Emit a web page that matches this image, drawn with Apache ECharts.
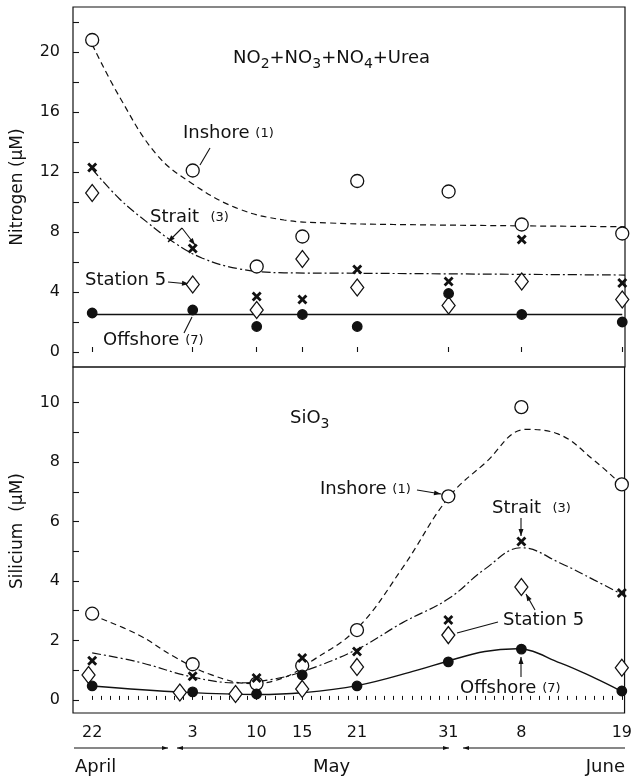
<!DOCTYPE html>
<html lang="en">
<head>
<meta charset="UTF-8">
<title>Nitrogen and silicium</title>
<script src="https://cdn.jsdelivr.net/npm/echarts@6/dist/echarts.min.js"></script>
<style>
  html, body { margin: 0; padding: 0; background: #fff; }
  #chart { width: 635px; height: 777px; }
</style>
</head>
<body>
<div id="chart"></div>
<script>
// sampling dates, day of year (22 April ... 19 June)
var sampleDays = [112, 123, 130, 135, 141, 151, 159, 170];
var dayLabels = ['22', '3', '10', '15', '21', '31', '8', '19'];

// nitrogen (uM), upper panel
var nInshore = [20.8, 12.1, 5.7, 7.7, 11.4, 10.7, 8.5, 7.9];
var nStrait = [12.3, 6.9, 3.7, 3.5, 5.5, 4.7, 7.5, 4.6];
var nStation5 = [10.6, 4.5, 2.8, 6.2, 4.3, 3.1, 4.7, 3.5];
var nOffshore = [2.6, 2.8, 1.7, 2.5, 1.7, 3.9, 2.5, 2.0];

// hand drawn fitted lines [day, value]
var nInshoreFit = [[112, 20.5], [115, 17.0], [119, 13.2], [123, 11.2], [128, 9.55], [133, 8.8],
    [138, 8.6], [145, 8.5], [170.3, 8.35]];
var nStraitFit = [[112, 12.2], [115, 10.2], [118, 8.66], [121, 7.28], [124, 6.27], [128, 5.55],
    [133, 5.28], [141, 5.25], [170.3, 5.13]];
var nOffshoreFit = [[112, 2.5], [170, 2.5]];

// silicium (uM), lower panel
var siInshore = [2.9, 1.2, 0.55, 1.15, 2.35, 6.85, 9.85, 7.25];
var siStrait = [1.32, 0.8, 0.74, 1.41, 1.63, 2.69, 5.33, 3.6];
var siStation5Days = [111.6, 121.6, 127.7, 135, 141, 151, 159, 170];
var siStation5 = [0.84, 0.25, 0.2, 0.37, 1.11, 2.18, 3.8, 1.08];
var siOffshore = [0.47, 0.27, 0.2, 0.84, 0.47, 1.28, 1.71, 0.3];

var siInshoreFit = [[112, 2.85], [117, 2.2], [121, 1.45], [125, 0.85], [129.5, 0.55], [133, 0.75],
    [136, 1.3], [141, 2.4], [146, 4.45], [151, 6.8], [155, 7.96], [159.5, 9.1], [163, 8.95],
    [167, 8.05], [169.8, 7.29]];
var siStraitFit = [[112, 1.58], [117, 1.28], [123, 0.77], [128, 0.57], [131.5, 0.68], [135, 0.95],
    [141, 1.7], [146, 2.6], [151, 3.4], [155, 4.4], [159, 5.12], [163.3, 4.6], [167, 4.03], [169.7, 3.6]];
var siOffshoreFit = [[112, 0.47], [122, 0.26], [130, 0.18], [135, 0.24], [141, 0.48], [147.6, 1.0],
    [151, 1.31], [155, 1.63], [158.5, 1.72], [163.3, 1.24], [167, 0.74], [169.9, 0.3]];

// axis ticks
var nTickValues = [0, 2, 4, 6, 8, 10, 12, 14, 16, 18, 20, 22];
var nLabelValues = [0, 4, 8, 12, 16, 20];
var siTickValues = [0, 1, 2, 3, 4, 5, 6, 7, 8, 9, 10];
var siLabelValues = [0, 2, 4, 6, 8, 10];

var INK = '#111';
var FONT = 'DejaVu Sans';

var dailyTicks = [];
for (var d = sampleDays[0]; d <= sampleDays[sampleDays.length - 1]; d++) dailyTicks.push(d);

function pairs(xs, ys) {
    return xs.map(function (x, i) { return [x, ys[i]]; });
}

var xMarker = 'path://M0,2L2,0L5,3L8,0L10,2L7,5L10,8L8,10L5,7L2,10L0,8L3,5Z';

function fitLine(data, axis, dash, width) {
    return {
        type: 'line', xAxisIndex: axis, yAxisIndex: axis, data: data,
        symbol: 'none', smooth: 0.4, z: 2,
        lineStyle: { color: INK, width: width || 1.2, type: dash }
    };
}
function points(data, axis, symbol, size, fill, z) {
    return {
        type: 'scatter', xAxisIndex: axis, yAxisIndex: axis, data: data,
        symbol: symbol, symbolSize: size, z: z,
        itemStyle: { color: fill, borderColor: INK, borderWidth: symbol === xMarker ? 0 : 1.3, opacity: 1 }
    };
}

// annotation helpers (pixel positions)
function arrow(x1, y1, x2, y2, head, L, W) {
    var els = [{ type: 'line', silent: true, shape: { x1: x1, y1: y1, x2: x2, y2: y2 }, style: { stroke: INK, lineWidth: 1.1 } }];
    if (head) {
        L = L || 7; W = W || 2.5;
        var a = Math.atan2(y2 - y1, x2 - x1);
        var bx = x2 - L * Math.cos(a), by = y2 - L * Math.sin(a);
        els.push({ type: 'polygon', silent: true, shape: { points: [[x2, y2],
            [bx - W * Math.sin(a), by + W * Math.cos(a)], [bx + W * Math.sin(a), by - W * Math.cos(a)]] },
            style: { fill: INK } });
    }
    return els;
}
var rich = {
    m: { fontSize: 18, lineHeight: 18, verticalAlign: 'top', fontFamily: FONT, fill: INK },
    s: { fontSize: 14, lineHeight: 14, padding: [8, 0, 0, 0], verticalAlign: 'top', fontFamily: FONT, fill: INK },
    n: { fontSize: 13, lineHeight: 13, padding: [3, 0, 0, 0], verticalAlign: 'top', fontFamily: FONT, fill: INK }
};
function label(x, y, text, align) {
    return { type: 'text', silent: true, style: { x: x, y: y, text: text, rich: rich,
        align: align || 'left', verticalAlign: 'middle', fill: INK, fontFamily: FONT, fontSize: 18 } };
}

var graphics = [].concat(
    [label(233, 58, '{m|NO}{s|2}{m|+NO}{s|3}{m|+NO}{s|4}{m|+Urea}')],
    [label(183, 133, '{m|Inshore }{n|(1)}')], arrow(210, 148, 200, 165, false),
    [label(150, 217, '{m|Strait  }{n|(3)}')], arrow(182, 228, 168, 242, true), arrow(182, 228, 195, 245, true),
    [label(85, 280, '{m|Station 5}')], arrow(168, 282, 189, 284, true),
    [label(103, 340, '{m|Offshore }{n|(7)}')], arrow(192, 317, 184, 333, false),

    [label(290, 418, '{m|SiO}{s|3}')],
    [label(320, 489, '{m|Inshore }{n|(1)}')], arrow(417, 490, 441, 494, true),
    [label(492, 508, '{m|Strait  }{n|(3)}')], arrow(521, 518, 521, 536, true),
    [label(503, 620, '{m|Station 5}')], arrow(498, 622, 457, 633, false), arrow(535, 610, 526, 594, true),
    [label(460, 688, '{m|Offshore }{n|(7)}')], arrow(521, 677, 521, 657, true),

    arrow(74, 748, 168, 748, true, 6, 2), arrow(313, 748, 177, 748, true, 6, 2), arrow(313, 748, 449, 748, true, 6, 2),
    arrow(625, 748, 463, 748, true, 6, 2),
    [label(75, 767, '{m|April}'), label(313, 767, '{m|May}'), label(625, 767, '{m|June}', 'right')]
);

var axisFont = { color: INK, fontFamily: FONT, fontSize: 16 };

var option = {
    animation: false,
    textStyle: { fontFamily: FONT, color: INK },
    grid: [
        { left: 73, right: 10, top: 7, height: 360, show: true, borderColor: INK, borderWidth: 1.2, backgroundColor: 'transparent' },
        { left: 73, right: 10, top: 367, height: 346, show: true, borderColor: INK, borderWidth: 1.2, backgroundColor: 'transparent' }
    ],
    xAxis: [
        { type: 'value', gridIndex: 0, min: 109.9, max: 170.3, splitLine: { show: false },
          axisLine: { show: false },
          axisTick: { show: true, inside: true, length: 5, customValues: sampleDays, lineStyle: { color: INK, width: 1.1 } },
          axisLabel: { show: false } },
        { type: 'value', gridIndex: 1, min: 109.9, max: 170.3, splitLine: { show: false },
          axisLine: { show: false },
          axisTick: { show: true, inside: true, length: 4, customValues: dailyTicks, lineStyle: { color: INK, width: 1 } },
          axisLabel: Object.assign({ customValues: sampleDays, margin: 12,
              formatter: function (v) { var i = sampleDays.indexOf(v); return i < 0 ? '' : dayLabels[i]; } }, axisFont) }
    ],
    yAxis: [
        { type: 'value', gridIndex: 0, min: -1, max: 23, splitLine: { show: false },
          axisLine: { show: false },
          axisTick: { show: true, inside: true, length: 6, customValues: nTickValues, lineStyle: { color: INK, width: 1.1 } },
          axisLabel: Object.assign({ customValues: nLabelValues, margin: 13 }, axisFont),
          name: 'Nitrogen (\u03bcM)', nameLocation: 'middle', nameGap: 47, nameRotate: 90,
          nameTextStyle: { color: INK, fontFamily: FONT, fontSize: 17 } },
        { type: 'value', gridIndex: 1, min: -0.44, max: 11.2, splitLine: { show: false },
          axisLine: { show: false },
          axisTick: { show: true, inside: true, length: 6, customValues: siTickValues, lineStyle: { color: INK, width: 1.1 } },
          axisLabel: Object.assign({ customValues: siLabelValues, margin: 13 }, axisFont),
          name: 'Silicium  (\u03bcM)', nameLocation: 'middle', nameGap: 47, nameRotate: 90,
          nameTextStyle: { color: INK, fontFamily: FONT, fontSize: 17, padding: [0, 0, 0, 18] } }
    ],
    series: [
        fitLine(nInshoreFit, 0, [6, 4]),
        fitLine(nStraitFit, 0, [9, 3, 2, 3]),
        fitLine(nOffshoreFit, 0, 'solid', 1.4),
        points(pairs(sampleDays, nInshore), 0, 'circle', 13, '#fff', 3),
        points(pairs(sampleDays, nStation5), 0, 'diamond', [13, 17], '#fff', 4),
        points(pairs(sampleDays, nStrait), 0, xMarker, 10, INK, 5),
        points(pairs(sampleDays, nOffshore), 0, 'circle', 9.5, INK, 6),

        fitLine(siInshoreFit, 1, [6, 4]),
        fitLine(siStraitFit, 1, [9, 3, 2, 3]),
        fitLine(siOffshoreFit, 1, 'solid', 1.4),
        points(pairs(sampleDays, siInshore), 1, 'circle', 13, '#fff', 3),
        points(pairs(siStation5Days, siStation5), 1, 'diamond', [13, 17], '#fff', 4),
        points(pairs(sampleDays, siStrait), 1, xMarker, 10, INK, 5),
        points(pairs(sampleDays, siOffshore), 1, 'circle', 9.5, INK, 6)
    ],
    graphic: graphics
};

var myChart = echarts.init(document.getElementById('chart'));
myChart.setOption(option);
</script>
</body>
</html>
